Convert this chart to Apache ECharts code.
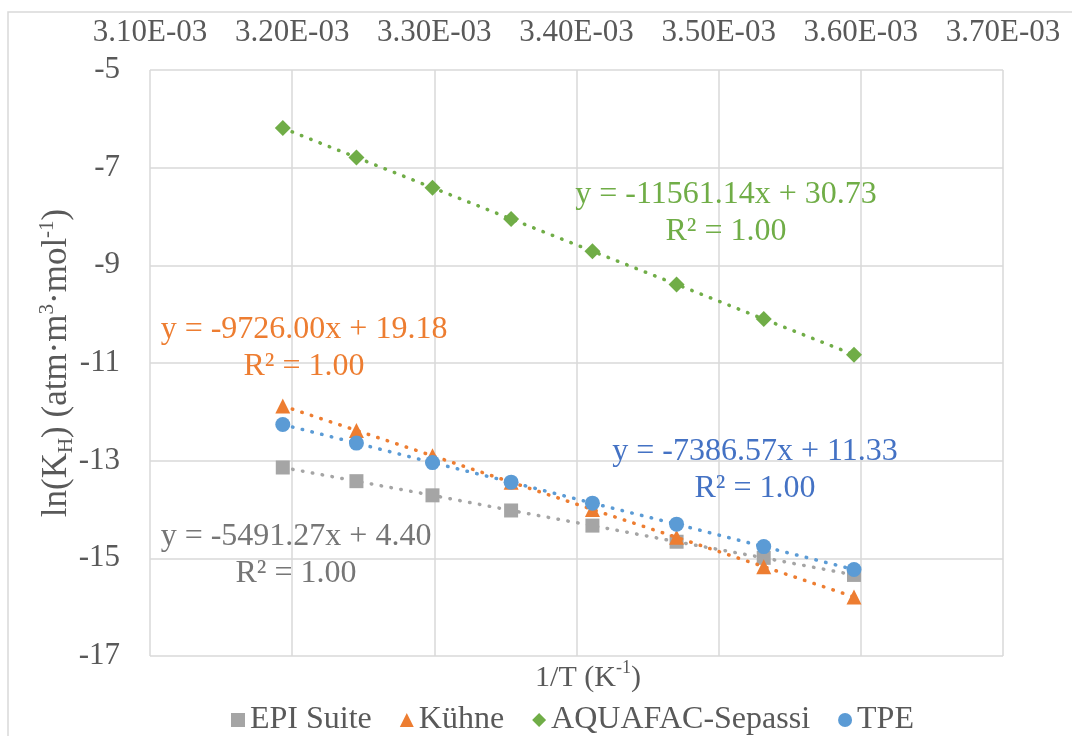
<!DOCTYPE html>
<html>
<head>
<meta charset="utf-8">
<script src="https://cdn.jsdelivr.net/npm/echarts@6/dist/echarts.min.js"></script>
<style>
	html, body { margin: 0; padding: 0; background: #fff; }
	#main { width: 1072px; height: 736px; }
</style>
</head>
<body>
<div id="main"></div>
<script>
const FONT = '"Liberation Serif", "Times New Roman", serif';

// 1/T (K^-1)
const invT = [0.0031934, 0.0032452, 0.0032987, 0.0033540, 0.0034112, 0.0034704, 0.0035317, 0.0035952];
// ln(KH) per source
const epiSuite = [-13.14, -13.42, -13.71, -14.02, -14.33, -14.66, -14.99, -15.34];
const kuhne = [-11.88, -12.38, -12.90, -13.44, -14.00, -14.57, -15.17, -15.79];
const aquafac = [-6.19, -6.79, -7.41, -8.05, -8.71, -9.39, -10.10, -10.83];
const tpe = [-12.26, -12.64, -13.04, -13.44, -13.87, -14.30, -14.76, -15.23];

const seriesNames = ['EPI Suite', 'Kühne', 'AQUAFAC-Sepassi', 'TPE'];
const seriesValues = [epiSuite, kuhne, aquafac, tpe];
const markerColors = ['#A5A5A5', '#ED7D31', '#70AD47', '#5B9BD5'];
const symbols = ['rect', 'triangle', 'diamond', 'circle'];
const symbolSizes = [14, 15, 16, 15];

const equations = [
	'y = -5491.27x + 4.40',
	'y = -9726.00x + 19.18',
	'y = -11561.14x + 30.73',
	'y = -7386.57x + 11.33'
];
const textColors = ['#767676', '#ED7D31', '#70AD47', '#4472C4'];
const eqPos = [[296, 555], [304, 348], [726, 213], [755, 470]];

function sci(v) {
	const parts = v.toExponential(2).split('e');
	const exp = parseInt(parts[1], 10);
	return parts[0] + 'E' + (exp < 0 ? '-' : '+') + String(Math.abs(exp)).padStart(2, '0');
}

const myChart = echarts.init(document.getElementById('main'));

const series = seriesNames.map(function (name, i) {
	return {
		name: name,
		type: 'line',
		data: invT.map(function (x, j) { return [x, seriesValues[i][j]]; }),
		symbol: symbols[i],
		symbolSize: symbolSizes[i],
		itemStyle: { color: markerColors[i] },
		lineStyle: { color: markerColors[i], width: 3.5, type: [0.5, 9.5], cap: 'round' },
		z: 2 + i
	};
});

const graphics = [
	{
		type: 'rect',
		shape: { x: 8, y: 12, width: 1200, height: 900 },
		style: { fill: null, stroke: '#D9D9D9', lineWidth: 1.5 },
		silent: true
	},
	{
		type: 'text',
		x: 588,
		y: 678,
		style: {
			text: '1/T (K{sup|-1})',
			align: 'center',
			verticalAlign: 'middle',
			fontFamily: FONT,
			fontSize: 30,
			fill: '#595959',
			lineHeight: 38,
			rich: {
				sup: { fontSize: 18, lineHeight: 18, verticalAlign: 'top', fontFamily: FONT, fill: '#595959' }
			}
		}
	}
];
equations.forEach(function (eq, i) {
	graphics.push({
		type: 'text',
		x: eqPos[i][0],
		y: eqPos[i][1],
		z: 100,
		style: {
			text: eq + '\nR² = 1.00',
			align: 'center',
			verticalAlign: 'middle',
			fontFamily: FONT,
			fontSize: 32,
			lineHeight: 37,
			fill: textColors[i]
		}
	});
});

const option = {
	animation: false,
	backgroundColor: '#fff',
	grid: { left: 150, right: 69, top: 70, bottom: 80, containLabel: false },
	legend: {
		top: 699,
		left: 226,
		itemWidth: 14,
		itemHeight: 14,
		itemGap: 28,
		data: seriesNames.map(function (n, i) { return { name: n, icon: symbols[i] }; }),
		textStyle: { fontFamily: FONT, fontSize: 32, color: '#595959' }
	},
	xAxis: {
		type: 'value',
		position: 'top',
		min: 0.0031,
		max: 0.0037,
		interval: 0.0001,
		axisLine: { show: false },
		axisTick: { show: false },
		splitLine: { lineStyle: { color: '#D9D9D9', width: 1.5 } },
		axisLabel: {
			margin: 22,
			fontFamily: FONT,
			fontSize: 31,
			color: '#595959',
			formatter: sci
		}
	},
	yAxis: {
		type: 'value',
		min: -17,
		max: -5,
		interval: 2,
		axisLine: { show: false },
		axisTick: { show: false },
		splitLine: { lineStyle: { color: '#D9D9D9', width: 1.5 } },
		axisLabel: {
			margin: 30,
			fontFamily: FONT,
			fontSize: 31,
			color: '#595959'
		},
		name: 'ln(K{sub|H}) (atm·m{sup|3}·mol{sup|-1})',
		nameLocation: 'middle',
		nameGap: 73,
		nameMoveOverlap: false,
		nameTextStyle: {
			fontFamily: FONT,
			fontSize: 35,
			color: '#595959',
			lineHeight: 40,
			rich: {
				sup: { fontSize: 21, lineHeight: 18, verticalAlign: 'top', fontFamily: FONT, color: '#595959' },
				sub: { fontSize: 21, lineHeight: 18, verticalAlign: 'bottom', fontFamily: FONT, color: '#595959' }
			}
		}
	},
	graphic: graphics,
	series: series
};

myChart.setOption(option);
</script>
</body>
</html>
